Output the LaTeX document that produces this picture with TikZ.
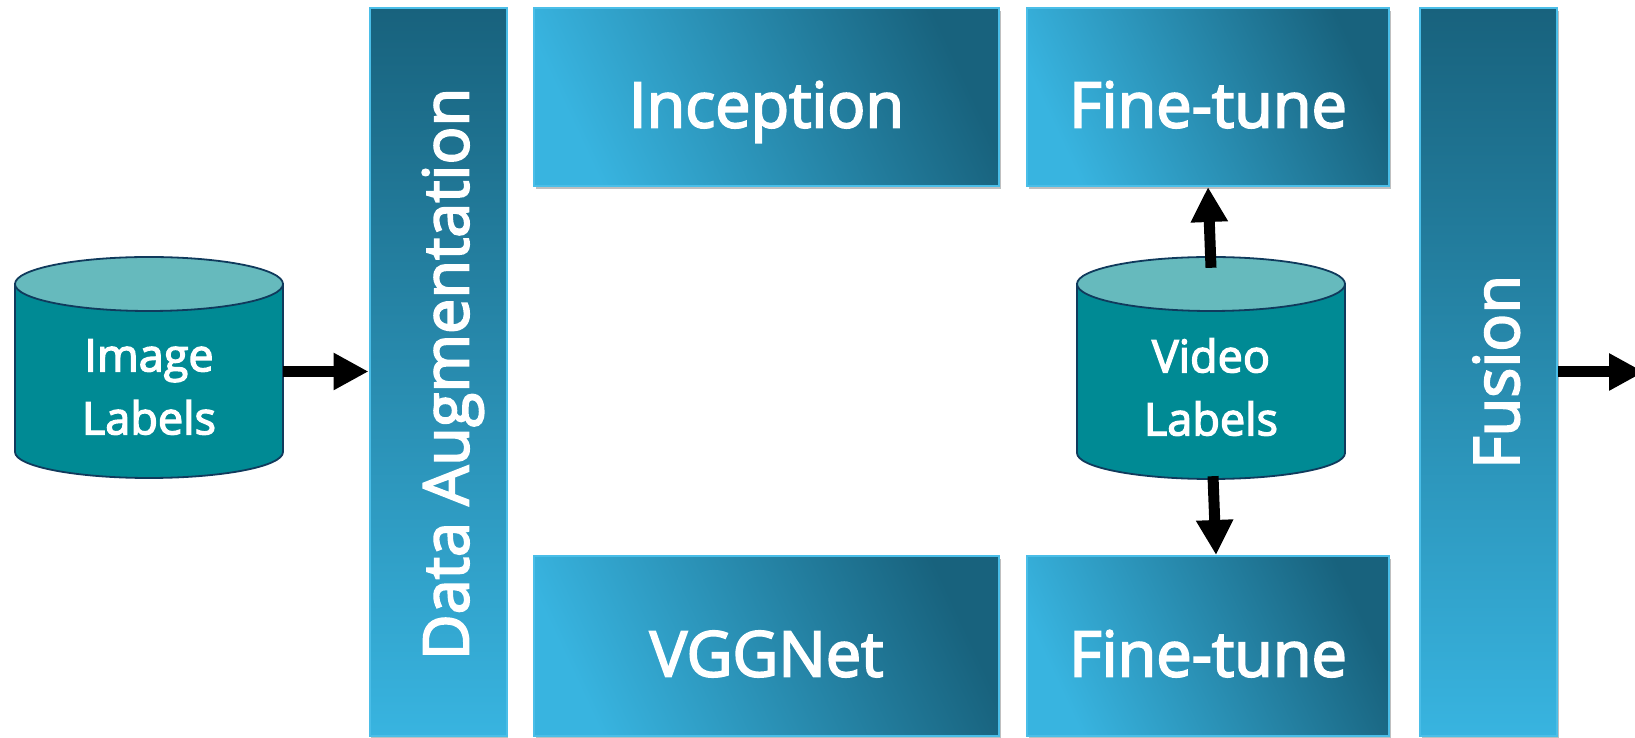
\documentclass[tikz,border=0pt]{standalone}
\usepackage{fontspec}
\setmainfont{Open Sans}[FakeBold=3]
\usetikzlibrary{arrows.meta,shadows}
\definecolor{boxlight}{RGB}{56,180,224}
\definecolor{boxdark}{RGB}{24,98,125}
\definecolor{boxborder}{RGB}{74,190,232}
\definecolor{cylbodycol}{RGB}{0,138,148}
\definecolor{cyltopcol}{RGB}{102,186,189}
\definecolor{cyllinecol}{RGB}{16,58,92}
\tikzset{
  boxfont/.style={text=white, font=\fontsize{63}{72}\selectfont, text height=61pt, text depth=0pt},
  boxbase/.style={draw=boxborder, line width=2pt, inner sep=0pt, boxfont,
    drop shadow={shadow xshift=1.5pt, shadow yshift=-3pt, opacity=0.25, fill=black}},
  hbox/.style={boxbase, top color=boxdark, bottom color=boxlight, shading angle=-65,
    minimum height=178pt},
  vbar/.style={boxbase, top color=boxdark, bottom color=boxlight,
    minimum width=137pt, minimum height=728pt},
  vtext/.style={boxfont, rotate=90, inner sep=0pt},
  cylbody/.style={fill=cylbodycol, draw=cyllinecol, line width=1.8pt},
  cyltop/.style={fill=cyltopcol, draw=cyllinecol, line width=1.8pt},
  cylframe/.style={minimum width=268pt, minimum height=222pt, inner sep=0pt},
  cyltext/.style={text=white, align=center, font=\fontsize{45}{63}\selectfont},
  flow/.style={line width=11pt, -{Triangle[length=35pt,width=35pt]}}
}
\newcommand\dbcylinder[4]{% #1 frame name, #2 cx, #3 top ellipse Y, #4 bottom ellipse Y
  \path[cylbody] (#2-134,#3) -- (#2-134,#4)
     arc[start angle=180, end angle=360, x radius=134, y radius=26] -- (#2+134,#3) -- cycle;
  \path[cyltop] (#2,#3) ellipse[x radius=134, y radius=27];
  \node[cylframe] (#1) at (#2,{(#3+27+#4-26)/2}) {};
}
\begin{document}
\begin{tikzpicture}[x=1pt,y=1pt]
\useasboundingbox (0,0) rectangle (1635,738);

% vertical bars
\node[vbar] (da) at (438,366) {};
\node[vtext] (datxt) at ([yshift=-2pt]da.center) {Data Augmentation};
\node[vbar] (fu) at (1488.5,366) {};
\node[vtext] (futxt) at (fu.center) {Fusion};

% horizontal boxes
\node[hbox, minimum width=465pt] (inc) at (766.5,641) {Inception};
\node[hbox, minimum width=362pt] (ft1) at (1208,641) {Fine-tune};
\node[hbox, minimum width=465pt, minimum height=180pt] (vgg) at (766.5,92) {VGGNet};
\node[hbox, minimum width=362pt, minimum height=180pt] (ft2) at (1208,92) {Fine-tune};

% cylinders
\dbcylinder{imgcyl}{149}{454}{286}
\node[cyltext] (imgtxt) at (149,351) {Image\\Labels};
\dbcylinder{vidcyl}{1211}{454}{285}
\node[cyltext] (vidtxt) at (1211,351) {Video\\Labels};

% connectors
\draw[flow] ([yshift=-4pt]imgcyl.east) -- ([yshift=-4pt]imgcyl.east -| da.west);
\draw[flow] ([yshift=-11pt]vidcyl.north) -- (ft1.south);
\draw[flow] ([xshift=2pt,yshift=3pt]vidcyl.south) -- ([xshift=8pt]ft2.north);
\coordinate (outend) at (1644,366);
\draw[flow] (fu.east |- outend) -- (outend);
\end{tikzpicture}
\end{document}
